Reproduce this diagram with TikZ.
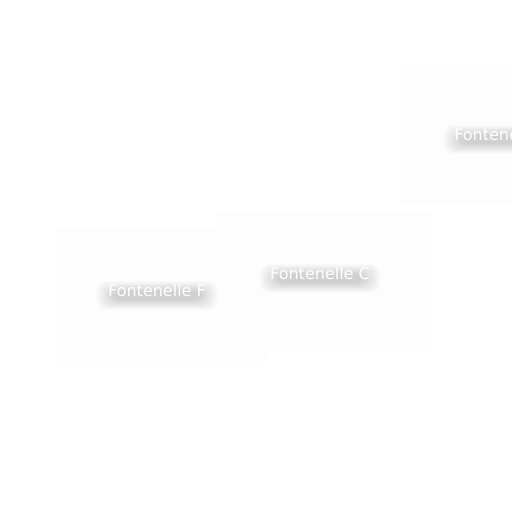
\documentclass[tikz,border=0pt]{standalone}
\usepackage{fontspec}
\setsansfont{DejaVu Sans}
\tikzset{every picture/.style={/utils/exec={\sffamily}}}
\tikzset{
  plate/.style={fill=black!0.8, draw=none},
  townlabel/.style={text=white, font=\fontsize{16}{18}\selectfont\sffamily, inner sep=0pt},
  blur/.style={fill=black, fill opacity=0.02, rounded corners=9pt}
}

\begin{document}
\begin{tikzpicture}[x=1pt, y=-1pt]
    \useasboundingbox [fill=white] (0, 0) rectangle (512, 512);
    % faint plates behind the labels
    \fill [plate] (56, 228) rectangle (268, 362);
    \fill [plate] (217, 212) rectangle (433, 346);
    \fill [plate] (400, 70) rectangle (512, 205);
    % soft shadows under the labels
    \foreach \cx/\cy in {157/295, 320/278, 504/139} {
        \foreach \s in {0, 2, ..., 16} {
            \fill [blur] (\cx-44-\s, \cy-4-\s*0.6) rectangle (\cx+44+\s, \cy+5+\s*0.6);
        }
    }
    \node [townlabel] (F) at (157, 291) {Fontenelle F};
    \node [townlabel] (C) at (320, 274) {Fontenelle C};
    \node [townlabel] (B) at (504, 135) {Fontenelle B};
\end{tikzpicture}
\end{document}
